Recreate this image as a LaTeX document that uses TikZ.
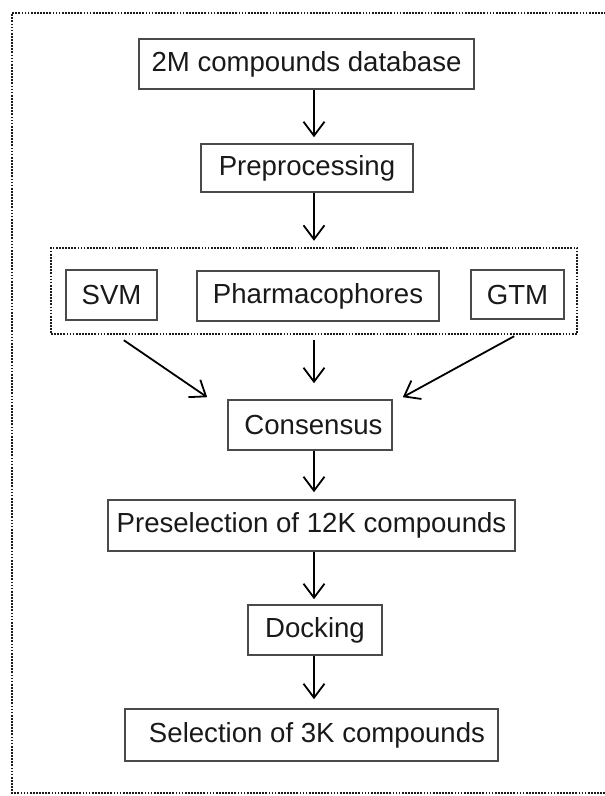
\documentclass[tikz,border=0pt]{standalone}
\usepackage{fontspec}
\setmainfont{Liberation Sans}
\usetikzlibrary{arrows.meta,calc}
\definecolor{boxgray}{HTML}{4A4A4A}
\definecolor{dotgray}{HTML}{1A1A1A}
\begin{document}
\begin{tikzpicture}[x=1pt,y=-1pt,
  box/.style={draw=boxgray, line width=1.6pt, rectangle, inner sep=0pt,
    font=\fontsize{27.6}{33}\selectfont, text=black!90},
  arr/.style={draw=black, line width=1.8pt,
    -{Straight Barb[length=14pt,width=21pt,line width=1.8pt]}},
  dots/.style={draw=dotgray, line width=2.4pt, dash pattern=on 1.7pt off 1.4pt},
]
\useasboundingbox (0,0) rectangle (605,796);
% outer dotted frame (right side lies outside the picture)
\draw[dots] (606,13) -- (12,13) -- (12,793) -- (606,793);

\node[box, minimum width=335pt, minimum height=50pt] (db) at (306.5,64) {2M compounds database};
\node[box, minimum width=212pt, minimum height=48pt] (pre) at (307,168) {Preprocessing};

\node[dots, rectangle, inner sep=0pt, minimum width=526pt, minimum height=86pt] (grp) at (314,291) {};
\node[box, minimum width=91pt, minimum height=50pt] (svm) at (111.5,295) {SVM};
\node[box, minimum width=242pt, minimum height=50pt] (ph) at (318,296) {Pharmacophores};
\node[box, minimum width=93pt, minimum height=49pt] (gtm) at (517.5,294.5) {GTM};

\node[box, minimum width=164pt, minimum height=50pt] (cons) at (310,425) {\hspace*{7pt}Consensus};
\node[box, minimum width=407pt, minimum height=51pt] (psel) at (311.5,525.5) {Preselection of 12K compounds};
\node[box, minimum width=134pt, minimum height=50pt] (dock) at (315,630) {Docking};
\node[box, minimum width=373pt, minimum height=52pt] (sel) at (311.5,735) {\hspace*{11pt}Selection of 3K compounds};

% connectors
\draw[arr, shorten >=6pt] (db.south -| grp.center) -- (pre.north -| grp.center);
\draw[arr, shorten >=6pt] (pre.south -| grp.center) -- (grp.north);
\draw[arr, shorten <=5pt, shorten >=16pt] (grp.south) -- (cons.north -| grp.center);
\coordinate (ls) at ($(grp.south west)+(74,5)$);
\coordinate (le) at ($(cons.north west)+(-20,-2)$);
\coordinate (rs) at ($(grp.south east)+(-64,1)$);
\coordinate (re) at ($(cons.north east)+(10,-2)$);
\draw[arr] (ls) -- (le);
\draw[arr] (rs) -- (re);
\draw[arr, shorten >=7pt] (cons.south -| grp.center) -- (psel.north -| grp.center);
\draw[arr, shorten >=5pt] (psel.south -| grp.center) -- (dock.north -| grp.center);
\draw[arr, shorten >=9pt] (dock.south -| grp.center) -- (sel.north -| grp.center);
\end{tikzpicture}
\end{document}
